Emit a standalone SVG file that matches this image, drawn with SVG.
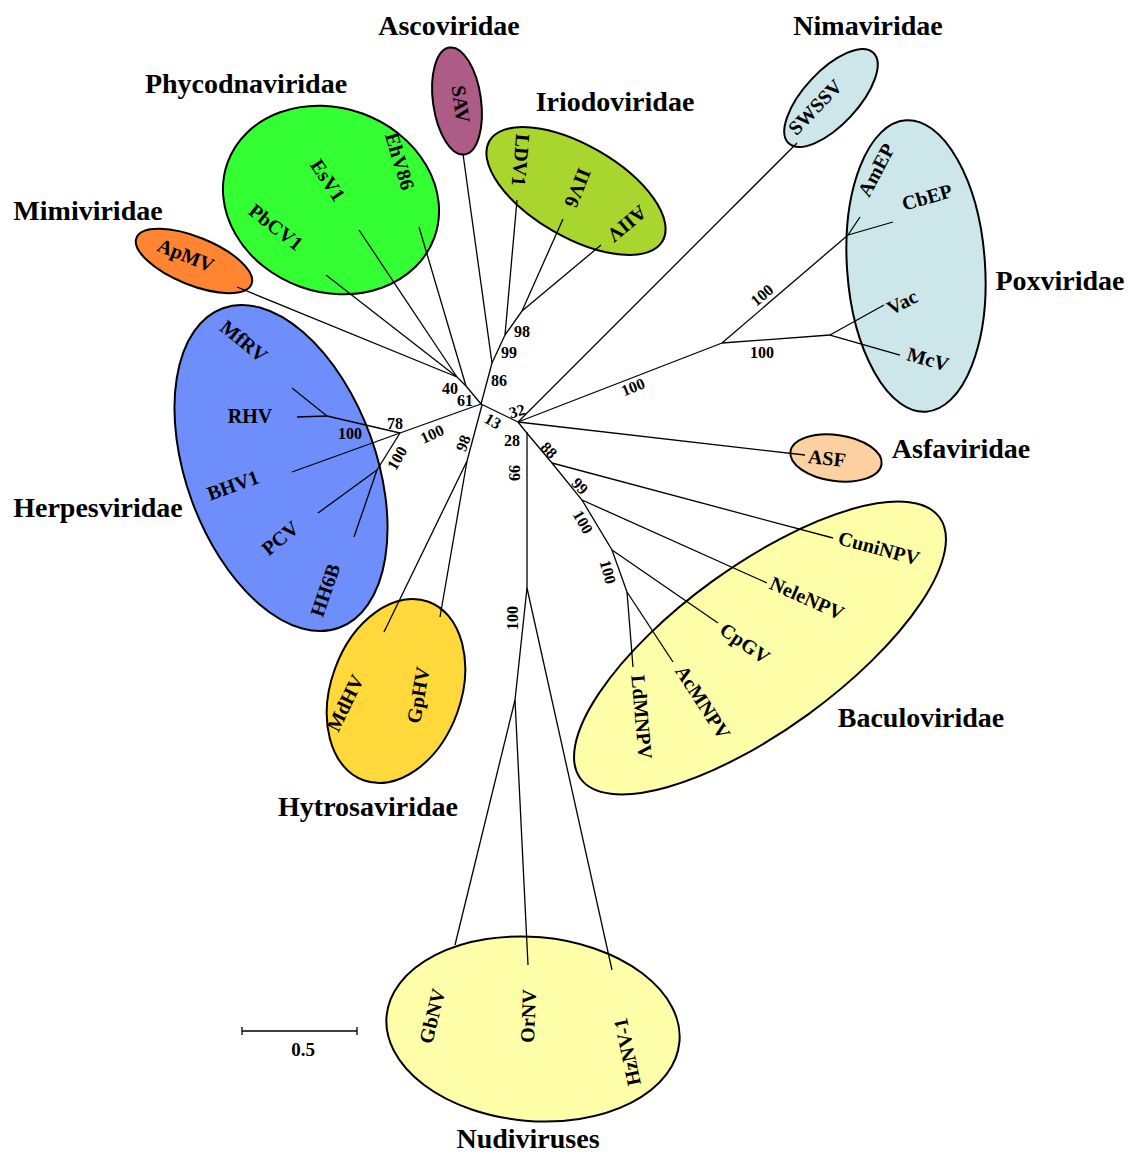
<svg xmlns="http://www.w3.org/2000/svg" width="1131" height="1154" viewBox="0 0 1131 1154">
<style>
.fam{font-family:"Liberation Serif","Times New Roman",serif;font-weight:bold;font-size:28px;text-anchor:middle;fill:#000}
.leaf{font-family:"Liberation Serif","Times New Roman",serif;font-weight:bold;font-size:20px;text-anchor:middle;dominant-baseline:central;fill:#000}
.bs{font-family:"Liberation Serif","Times New Roman",serif;font-weight:bold;font-size:16px;text-anchor:middle;dominant-baseline:central;fill:#000}
.el{stroke:#000;stroke-width:2}
.br line,.br polyline{stroke:#000;stroke-width:1.3;fill:none}
</style>
<rect width="1131" height="1154" fill="#fff"/>
<g id="ellipses">
<g id="phycodnaviridae"><ellipse class="el" cx="331" cy="200" rx="110" ry="92" transform="rotate(20 331 200)" fill="#33ff33"/></g>
<g id="mimiviridae"><ellipse class="el" cx="194" cy="261" rx="62" ry="24" transform="rotate(22 194 261)" fill="#ff8533"/></g>
<g id="ascoviridae"><ellipse class="el" cx="457" cy="101" rx="24" ry="54" transform="rotate(-8 457 101)" fill="#ad5b87"/></g>
<g id="iridoviridae"><ellipse class="el" cx="576" cy="191" rx="100" ry="46" transform="rotate(30 576 191)" fill="#a9d52f"/></g>
<g id="nimaviridae"><ellipse class="el" cx="831" cy="98" rx="62" ry="27" transform="rotate(-47 831 98)" fill="#cde6ea"/></g>
<g id="poxviridae"><ellipse class="el" cx="916" cy="266" rx="69" ry="146" transform="rotate(-4 916 266)" fill="#cde6ea"/></g>
<g id="asfaviridae"><ellipse class="el" cx="836" cy="458" rx="46" ry="23" transform="rotate(8 836 458)" fill="#fdd0a2"/></g>
<g id="herpesviridae"><ellipse class="el" cx="281" cy="468" rx="95" ry="170" transform="rotate(-20 281 468)" fill="#6e8efc"/></g>
<g id="hytrosaviridae"><ellipse class="el" cx="396" cy="691" rx="65" ry="95" transform="rotate(20 396 691)" fill="#ffd83c"/></g>
<g id="baculoviridae"><ellipse class="el" cx="760" cy="648" rx="222" ry="82" transform="rotate(-36 760 648)" fill="#ffffaa"/></g>
<g id="nudiviruses"><ellipse class="el" cx="533" cy="1029" rx="147" ry="92" transform="rotate(5 533 1029)" fill="#ffffaa"/></g>
</g>
<g id="connectors" class="br">
<line x1="237" y1="287" x2="457" y2="377"/>
<line x1="326" y1="275" x2="457" y2="377"/>
<line x1="359" y1="230" x2="457" y2="377"/>
<line x1="457" y1="377" x2="466" y2="386"/>
<line x1="419" y1="227" x2="466" y2="386"/>
<line x1="466" y1="386" x2="481" y2="404"/>
<line x1="481" y1="404" x2="492" y2="363"/>
<line x1="463" y1="154" x2="492" y2="363"/>
<line x1="492" y1="363" x2="505" y2="335"/>
<line x1="517" y1="200" x2="505" y2="335"/>
<line x1="505" y1="335" x2="522" y2="311"/>
<line x1="563" y1="219" x2="522" y2="311"/>
<line x1="601" y1="245" x2="522" y2="311"/>
<line x1="481" y1="404" x2="518" y2="422"/>
<line x1="518" y1="422" x2="797" y2="143"/>
<line x1="518" y1="422" x2="722" y2="343"/>
<line x1="722" y1="343" x2="848" y2="235"/>
<line x1="848" y1="235" x2="860" y2="217"/>
<line x1="848" y1="235" x2="893" y2="222"/>
<line x1="722" y1="343" x2="830" y2="335"/>
<line x1="830" y1="335" x2="884" y2="305"/>
<line x1="830" y1="335" x2="900" y2="355"/>
<line x1="518" y1="422" x2="805" y2="455"/>
<line x1="518" y1="422" x2="526" y2="432"/>
<line x1="527" y1="432" x2="527" y2="588"/>
<line x1="527" y1="588" x2="515" y2="700"/>
<line x1="515" y1="700" x2="455" y2="945"/>
<line x1="515" y1="700" x2="528" y2="965"/>
<line x1="527" y1="588" x2="612" y2="970"/>
<polyline points="526,432 552,463 582,500 612,550 627,592"/>
<line x1="552" y1="463" x2="833" y2="538"/>
<line x1="582" y1="500" x2="767" y2="583"/>
<line x1="612" y1="550" x2="718" y2="623"/>
<line x1="627" y1="592" x2="633" y2="667"/>
<line x1="627" y1="592" x2="673" y2="662"/>
<line x1="481" y1="404" x2="400" y2="433"/>
<line x1="400" y1="433" x2="292" y2="472"/>
<line x1="400" y1="433" x2="327" y2="416"/>
<line x1="327" y1="416" x2="292" y2="388"/>
<line x1="327" y1="416" x2="297" y2="417"/>
<line x1="400" y1="433" x2="377" y2="470"/>
<line x1="377" y1="470" x2="318" y2="513"/>
<line x1="377" y1="470" x2="354" y2="537"/>
<line x1="482" y1="405" x2="467" y2="461"/>
<line x1="467" y1="461" x2="384" y2="632"/>
<line x1="467" y1="461" x2="440" y2="617"/>
</g>
<g id="support">
<text class="bs" x="450" y="388">40</text>
<text class="bs" x="465" y="400">61</text>
<text class="bs" x="499" y="380">86</text>
<text class="bs" x="509" y="352">99</text>
<text class="bs" x="522" y="331">98</text>
<text class="bs" transform="translate(517 411) rotate(-15)">32</text>
<text class="bs" transform="translate(493 421) rotate(30)">13</text>
<text class="bs" x="512" y="440">28</text>
<text class="bs" transform="translate(549 450) rotate(45)">88</text>
<text class="bs" transform="translate(580 486) rotate(45)">99</text>
<text class="bs" transform="translate(583 522) rotate(60)">100</text>
<text class="bs" transform="translate(608 572) rotate(75)">100</text>
<text class="bs" transform="translate(514 473) rotate(90)">99</text>
<text class="bs" transform="translate(512 618) rotate(-90)">100</text>
<text class="bs" x="395" y="423">78</text>
<text class="bs" x="350" y="433">100</text>
<text class="bs" transform="translate(432 434) rotate(-25)">100</text>
<text class="bs" transform="translate(397 458) rotate(-60)">100</text>
<text class="bs" transform="translate(463 443) rotate(-70)">98</text>
<text class="bs" transform="translate(633 387) rotate(-22)">100</text>
<text class="bs" transform="translate(762 295) rotate(-40)">100</text>
<text class="bs" x="762" y="352">100</text>
</g>
<g id="leaves">
<text class="leaf" transform="translate(461 104) rotate(82)">SAV</text>
<text class="leaf" transform="translate(521 160) rotate(95)">LDV1</text>
<text class="leaf" transform="translate(578 188) rotate(112)">IIV6</text>
<text class="leaf" transform="translate(627 224) rotate(140)">AIIV</text>
<text class="leaf" transform="translate(400 161) rotate(73)">EhV86</text>
<text class="leaf" transform="translate(328 180) rotate(56)">EsV1</text>
<text class="leaf" transform="translate(276 227) rotate(38)">PbCV1</text>
<text class="leaf" transform="translate(186 255) rotate(22)">ApMV</text>
<text class="leaf" transform="translate(244 341) rotate(39)">MfRV</text>
<text class="leaf" x="250" y="416">RHV</text>
<text class="leaf" transform="translate(233 485) rotate(-20)">BHV1</text>
<text class="leaf" transform="translate(280 538) rotate(-40)">PCV</text>
<text class="leaf" transform="translate(325 590) rotate(-71)">HH6B</text>
<text class="leaf" transform="translate(345 703) rotate(-64)">MdHV</text>
<text class="leaf" transform="translate(418 695) rotate(-80)">GpHV</text>
<text class="leaf" transform="translate(432 1016) rotate(-76)">GbNV</text>
<text class="leaf" transform="translate(528 1016) rotate(-88)">OrNV</text>
<text class="leaf" transform="translate(627 1052) rotate(-102)">HzNV-1</text>
<text class="leaf" transform="translate(642 717) rotate(85)">LdMNPV</text>
<text class="leaf" transform="translate(703 702) rotate(57)">AcMNPV</text>
<text class="leaf" transform="translate(745 643) rotate(35)">CpGV</text>
<text class="leaf" transform="translate(807 598) rotate(24)">NeleNPV</text>
<text class="leaf" transform="translate(879 548) rotate(15)">CuniNPV</text>
<text class="leaf" transform="translate(827 458) rotate(6)">ASF</text>
<text class="leaf" transform="translate(815 107) rotate(-46)">SWSSV</text>
<text class="leaf" transform="translate(876 170) rotate(-62)">AmEP</text>
<text class="leaf" transform="translate(927 197) rotate(-16)">CbEP</text>
<text class="leaf" transform="translate(902 302) rotate(-27)">Vac</text>
<text class="leaf" transform="translate(928 359) rotate(16)">McV</text>
</g>
<g id="families">
<text class="fam" x="449" y="35">Ascoviridae</text>
<text class="fam" x="868" y="35">Nimaviridae</text>
<text class="fam" x="246" y="93">Phycodnaviridae</text>
<text class="fam" x="615" y="111">Iriodoviridae</text>
<text class="fam" x="88" y="220">Mimiviridae</text>
<text class="fam" x="1060" y="290">Poxviridae</text>
<text class="fam" x="961" y="458">Asfaviridae</text>
<text class="fam" x="98" y="517">Herpesviridae</text>
<text class="fam" x="921" y="727">Baculoviridae</text>
<text class="fam" x="368" y="816">Hytrosaviridae</text>
<text class="fam" x="528" y="1148">Nudiviruses</text>
</g>
<g id="scalebar">
<line x1="242" y1="1031" x2="357" y2="1031" stroke="#000" stroke-width="1.3"/>
<line x1="242" y1="1027" x2="242" y2="1035" stroke="#000" stroke-width="1.3"/>
<line x1="357" y1="1027" x2="357" y2="1035" stroke="#000" stroke-width="1.3"/>
<text x="303" y="1056" font-family="Liberation Serif, serif" font-weight="bold" font-size="19" text-anchor="middle">0.5</text>
</g>
</svg>
